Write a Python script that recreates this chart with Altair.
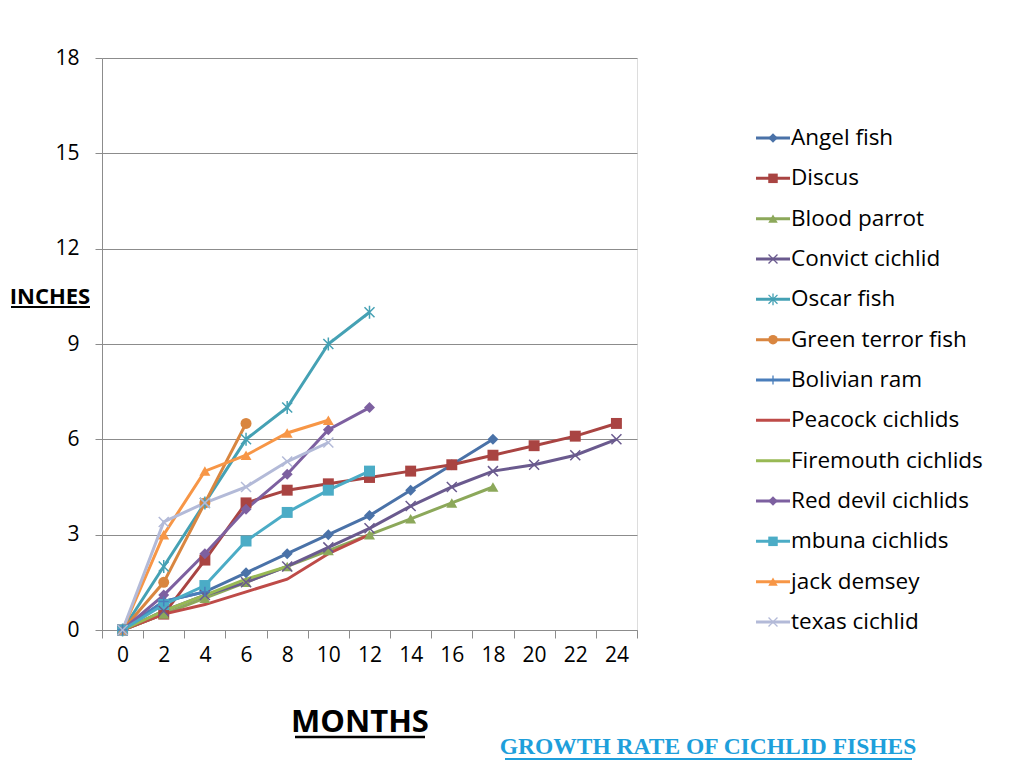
import altair as alt
import pandas as pd

# ---------------- data ----------------
months = [0, 2, 4, 6, 8, 10, 12, 14, 16, 18, 20, 22, 24]
y_ticks = [0, 3, 6, 9, 12, 15, 18]

series_names = [
    "Angel fish", "Discus", "Blood parrot", "Convict cichlid", "Oscar fish",
    "Green terror fish", "Bolivian ram", "Peacock cichlids", "Firemouth cichlids",
    "Red devil cichlids", "mbuna cichlids", "jack demsey", "texas cichlid",
]

angel_fish = [0, 0.9, 1.2, 1.8, 2.4, 3.0, 3.6, 4.4, 5.2, 6.0]
discus = [0, 0.5, 2.2, 4.0, 4.4, 4.6, 4.8, 5.0, 5.2, 5.5, 5.8, 6.1, 6.5]
blood_parrot = [0, 0.5, 1.0, 1.5, 2.0, 2.5, 3.0, 3.5, 4.0, 4.5]
convict_cichlid = [0, 0.6, 1.1, 1.5, 2.0, 2.6, 3.2, 3.9, 4.5, 5.0, 5.2, 5.5, 6.0]
oscar_fish = [0, 2.0, 4.0, 6.0, 7.0, 9.0, 10.0]
green_terror_fish = [0, 1.5, 4.0, 6.5]
bolivian_ram = [0, 0.9, 1.2]
peacock_cichlids = [0, 0.5, 0.8, 1.2, 1.6, 2.4, 3.0]
firemouth_cichlids = [0, 0.6, 1.1, 1.6, 2.0]
red_devil_cichlids = [0, 1.1, 2.4, 3.8, 4.9, 6.3, 7.0]
mbuna_cichlids = [0, 0.8, 1.4, 2.8, 3.7, 4.4, 5.0]
jack_demsey = [0, 3.0, 5.0, 5.5, 6.2, 6.6]
texas_cichlid = [0, 3.4, 4.0, 4.5, 5.3, 5.9]

series_values = [
    angel_fish, discus, blood_parrot, convict_cichlid, oscar_fish,
    green_terror_fish, bolivian_ram, peacock_cichlids, firemouth_cichlids,
    red_devil_cichlids, mbuna_cichlids, jack_demsey, texas_cichlid,
]

series_colors = [
    "#4A72A8", "#A94442", "#8CA85A", "#6A5A8E", "#45A1B4", "#D98640",
    "#4A7EBB", "#BE4B48", "#98B954", "#7D60A0", "#4BACC6", "#F79646", "#B3BAD8",
]

X_PATH = "M-1,-1L1,1M-1,1L1,-1"
STAR_PATH = "M-1,-1L1,1M-1,1L1,-1M0,-1.3L0,1.3"
PLUS_PATH = "M0,-1L0,1M-1,0L1,0"
series_shapes = [
    "diamond", "square", "triangle-up", X_PATH, STAR_PATH, "circle",
    PLUS_PATH, "circle", "circle", "diamond", "square", "triangle-up", X_PATH,
]
filled_series = ["Angel fish", "Discus", "Blood parrot", "Green terror fish",
                 "Red devil cichlids", "mbuna cichlids", "jack demsey"]
stroked_series = ["Convict cichlid", "Oscar fish", "Bolivian ram", "texas cichlid"]

rows = []
for name, vals in zip(series_names, series_values):
    for m, v in zip(months, vals):
        rows.append({"series": name, "month": m, "inches": v})
df = pd.DataFrame(rows)
legend_df = pd.DataFrame({"series": series_names})

W, H = 535, 572

color_scale = alt.Scale(domain=series_names, range=series_colors)
shape_scale = alt.Scale(domain=series_names, range=series_shapes)

x_enc = alt.X(
    "month:O",
    bandPosition=0.5,
    scale=alt.Scale(type="band", domain=months, paddingInner=0, paddingOuter=0),
    axis=alt.Axis(
        title=None, tickBand="extent", tickSize=8, labelPadding=6,
        labelAngle=0, grid=False, domainColor="#8C8C8C", tickColor="#8C8C8C",
        labelFontSize=21, labelColor="#000000", labelFont="Open Sans",
    ),
)
y_enc = alt.Y(
    "inches:Q",
    scale=alt.Scale(domain=[0, 18], nice=False, zero=True),
    axis=alt.Axis(
        title=None, values=y_ticks, tickSize=7, labelPadding=16,
        grid=True, gridColor="#8C8C8C", gridWidth=1,
        domainColor="#8C8C8C", tickColor="#8C8C8C",
        labelFontSize=21, labelColor="#000000", labelFont="Open Sans",
    ),
)

base = alt.Chart(df)

lines = base.mark_line(strokeWidth=3).encode(
    x=x_enc, y=y_enc,
    color=alt.Color("series:N", scale=color_scale, legend=None),
    detail="series:N",
)

pts_filled = base.transform_filter(
    alt.FieldOneOfPredicate(field="series", oneOf=filled_series)
).mark_point(filled=True, opacity=1, size=120).encode(
    x=x_enc, y=y_enc,
    color=alt.Color("series:N", scale=color_scale, legend=None),
    shape=alt.Shape("series:N", scale=shape_scale, legend=None),
)

pts_stroked = base.transform_filter(
    alt.FieldOneOfPredicate(field="series", oneOf=stroked_series)
).mark_point(filled=False, opacity=1, size=100, strokeWidth=1.5).encode(
    x=x_enc, y=y_enc,
    color=alt.Color("series:N", scale=color_scale, legend=None),
    shape=alt.Shape("series:N", scale=shape_scale, legend=None),
)

# ---------------- legend built from the series list ----------------
leg_y = alt.Y("series:N",
              scale=alt.Scale(type="point", domain=series_names, range=[80, 564], padding=0),
              axis=None)
leg_base = alt.Chart(legend_df)

leg_lines = leg_base.mark_rule(strokeWidth=3).encode(
    x=alt.value(654), x2=alt.value(688), y=leg_y,
    color=alt.Color("series:N", scale=color_scale, legend=None),
)
leg_pts_filled = leg_base.transform_filter(
    alt.FieldOneOfPredicate(field="series", oneOf=filled_series)
).mark_point(filled=True, opacity=1, size=90).encode(
    x=alt.value(671), y=leg_y,
    color=alt.Color("series:N", scale=color_scale, legend=None),
    shape=alt.Shape("series:N", scale=shape_scale, legend=None),
)
leg_pts_stroked = leg_base.transform_filter(
    alt.FieldOneOfPredicate(field="series", oneOf=stroked_series)
).mark_point(filled=False, opacity=1, size=80, strokeWidth=1.3).encode(
    x=alt.value(671), y=leg_y,
    color=alt.Color("series:N", scale=color_scale, legend=None),
    shape=alt.Shape("series:N", scale=shape_scale, legend=None),
)
leg_text = leg_base.mark_text(
    align="left", baseline="middle", fontSize=22.5, font="Open Sans", color="#000000"
).encode(
    x=alt.value(689), y=leg_y, text="series:N",
)

legend_layer = alt.layer(leg_lines, leg_pts_filled, leg_pts_stroked, leg_text)

# ---------------- titles ----------------
def label(txt, x, y, size, color, font, weight="bold"):
    return alt.Chart(pd.DataFrame({"t": [txt]})).mark_text(
        align="center", baseline="alphabetic", fontSize=size, font=font,
        fontWeight=weight, color=color,
    ).encode(x=alt.value(x), y=alt.value(y), text="t:N")

def underline(x1, x2, y, color, width):
    return alt.Chart(pd.DataFrame({"t": [0]})).mark_rule(color=color, strokeWidth=width).encode(
        x=alt.value(x1), x2=alt.value(x2), y=alt.value(y)
    )

inches_lbl = label("INCHES", -52, 246, 22, "#000000", "Open Sans")
inches_ul = underline(-91, -12, 249, "#000000", 2)
months_lbl = label("MONTHS", 258, 674, 31, "#000000", "Open Sans")
months_ul = underline(193, 323, 679, "#000000", 2.5)
title_lbl = label("GROWTH RATE OF CICHLID FISHES", 606, 696, 23.5,
                  "#1E9FDB", "Liberation Serif")
title_ul = underline(403, 810, 701, "#1E9FDB", 2)

main = alt.layer(lines, pts_filled, pts_stroked)

chart = alt.layer(
    main, legend_layer, inches_lbl, inches_ul, months_lbl, months_ul, title_lbl, title_ul
).resolve_scale(y="independent").properties(
    width=W, height=H,
    autosize=alt.AutoSizeParams(type="none"),
    padding={"left": 94, "top": 50, "right": 371, "bottom": 140},
    background="#FFFFFF",
).configure_view(stroke=None).configure(font="Open Sans")

chart.save("out.html", embed_options={"renderer": "svg", "actions": False})
